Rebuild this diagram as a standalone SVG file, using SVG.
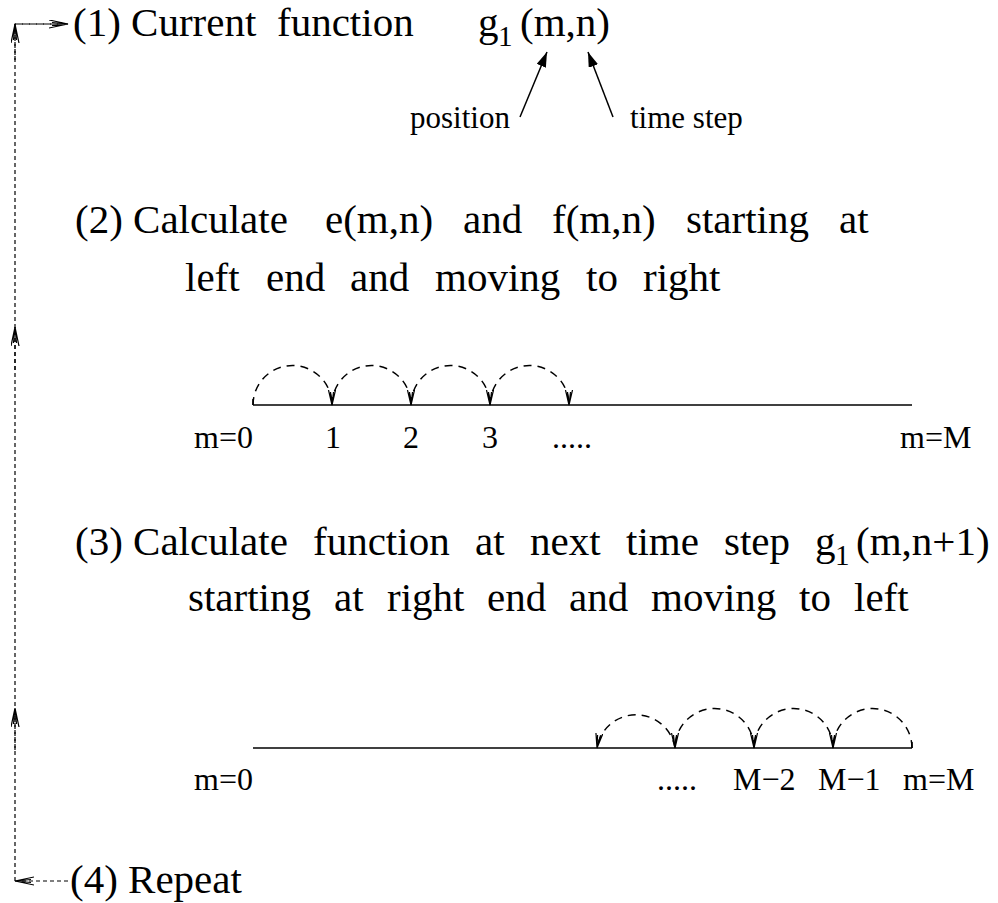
<svg xmlns="http://www.w3.org/2000/svg" width="998" height="903" viewBox="0 0 998 903">
<style>
text{font-family:"Liberation Serif","Times New Roman",serif;fill:#000}
.big{font-size:41px}
.sub{font-size:29px}
.lab{font-size:32px}
.small{font-size:31px}
.axis{stroke:#000;stroke-width:1.5;fill:none}
.arc{stroke:#000;stroke-width:1.5;fill:none;stroke-dasharray:8 6}
.loop{stroke:#000;stroke-width:1.2;fill:none;stroke-dasharray:4 3}
.solid{stroke:#000;stroke-width:1.5;fill:none}
</style>
<defs>
<marker id="vhead" markerUnits="userSpaceOnUse" markerWidth="16" markerHeight="9" refX="15" refY="4" orient="auto">
<path d="M0,0.5 L15,4 L0,7.5 M2,2.5 L15,4 L2,5.5" fill="none" stroke="#000" stroke-width="1.2"/>
</marker>
<marker id="lhead" markerUnits="userSpaceOnUse" markerWidth="20" markerHeight="10" refX="19" refY="4.5" orient="auto">
<path d="M0,0.5 L19,4.5 L0,8.5 M3,3 L19,4.5 L3,6" fill="none" stroke="#000" stroke-width="1.2"/>
</marker>
<marker id="fhead" markerUnits="userSpaceOnUse" markerWidth="16" markerHeight="10" refX="15" refY="5" orient="auto">
<path d="M0,0 L15,5 L0,10 Z" fill="#000"/>
</marker>
</defs>

<g id="connectors">
<path class="loop" d="M15,881 L15,24 L68,24"/>
<path class="loop" d="M68,881 L15,881" marker-end="url(#lhead)"/>
<path class="loop" d="M15,24 L68,24" marker-end="url(#lhead)"/>
<path class="loop" d="M15,60 L15,24" marker-end="url(#lhead)"/>
<path class="loop" d="M15,370 L15,327" marker-end="url(#lhead)"/>
<path class="loop" d="M15,750 L15,708" marker-end="url(#lhead)"/>
<line class="solid" x1="520" y1="117" x2="547" y2="52" marker-end="url(#fhead)"/>
<line class="solid" x1="613" y1="117" x2="588" y2="52" marker-end="url(#fhead)"/>
</g>

<g id="node1">
<text class="big" x="73" y="36">(1) Current</text>
<text class="big" x="277" y="36">function</text>
<text class="big" x="478" y="36">g</text>
<text class="sub" x="498" y="46">1</text>
<text class="big" x="520" y="36">(m,n)</text>
<text class="small" x="410" y="128">position</text>
<text class="small" x="630" y="128">time step</text>
</g>

<g id="node2">
<text class="big" x="75" y="233">(2) Calculate</text>
<text class="big" x="325" y="233">e(m,n)</text>
<text class="big" x="463" y="233">and</text>
<text class="big" x="552" y="233">f(m,n)</text>
<text class="big" x="686" y="233">starting</text>
<text class="big" x="839" y="233">at</text>
<text class="big" x="185" y="291">left</text>
<text class="big" x="266" y="291">end</text>
<text class="big" x="350" y="291">and</text>
<text class="big" x="435" y="291">moving</text>
<text class="big" x="586" y="291">to</text>
<text class="big" x="643" y="291">right</text>
</g>

<g id="numberline1">
<line class="axis" x1="253" y1="405" x2="912" y2="405"/>
<line class="axis" x1="253" y1="399" x2="253" y2="405"/>
<path class="arc" d="M253,405 A39.5,39.5 0 0 1 332,405" marker-end="url(#vhead)"/>
<path class="arc" d="M332,405 A39.5,39.5 0 0 1 411,405" marker-end="url(#vhead)"/>
<path class="arc" d="M411,405 A39.5,39.5 0 0 1 490,405" marker-end="url(#vhead)"/>
<path class="arc" d="M490,405 A39.5,39.5 0 0 1 569,405" marker-end="url(#vhead)"/>
<text class="lab" x="194" y="448">m=0</text>
<text class="lab" x="325" y="448">1</text>
<text class="lab" x="403" y="448">2</text>
<text class="lab" x="482" y="448">3</text>
<text class="lab" x="552" y="448">.....</text>
<text class="lab" x="900" y="448">m=M</text>
</g>

<g id="node3">
<text class="big" x="75" y="555">(3) Calculate</text>
<text class="big" x="313" y="555">function</text>
<text class="big" x="475" y="555">at</text>
<text class="big" x="530" y="555">next</text>
<text class="big" x="626" y="555">time</text>
<text class="big" x="724" y="555">step</text>
<text class="big" x="815" y="555">g</text>
<text class="sub" x="835" y="565">1</text>
<text class="big" x="856" y="555">(m,n+1)</text>
<text class="big" x="188" y="611">starting</text>
<text class="big" x="334" y="611">at</text>
<text class="big" x="387" y="611">right</text>
<text class="big" x="487" y="611">end</text>
<text class="big" x="569" y="611">and</text>
<text class="big" x="651" y="611">moving</text>
<text class="big" x="799" y="611">to</text>
<text class="big" x="854" y="611">left</text>
</g>

<g id="numberline2">
<line class="axis" x1="253" y1="748" x2="912" y2="748"/>
<line class="axis" x1="912" y1="742" x2="912" y2="748"/>
<path class="arc" d="M912,748 A39.5,39.5 0 0 0 833,748" marker-end="url(#vhead)"/>
<path class="arc" d="M833,748 A39.5,39.5 0 0 0 754,748" marker-end="url(#vhead)"/>
<path class="arc" d="M754,748 A39.5,39.5 0 0 0 675,748" marker-end="url(#vhead)"/>
<path class="arc" d="M675,748 A39.5,39.5 0 0 0 597,748" marker-end="url(#vhead)"/>
<text class="lab" x="194" y="790">m=0</text>
<text class="lab" x="657" y="790">.....</text>
<text class="lab" x="733" y="790">M−2</text>
<text class="lab" x="818" y="790">M−1</text>
<text class="lab" x="903" y="790">m=M</text>
</g>

<g id="node4">
<text class="big" x="70" y="893">(4) Repeat</text>
</g>
</svg>
